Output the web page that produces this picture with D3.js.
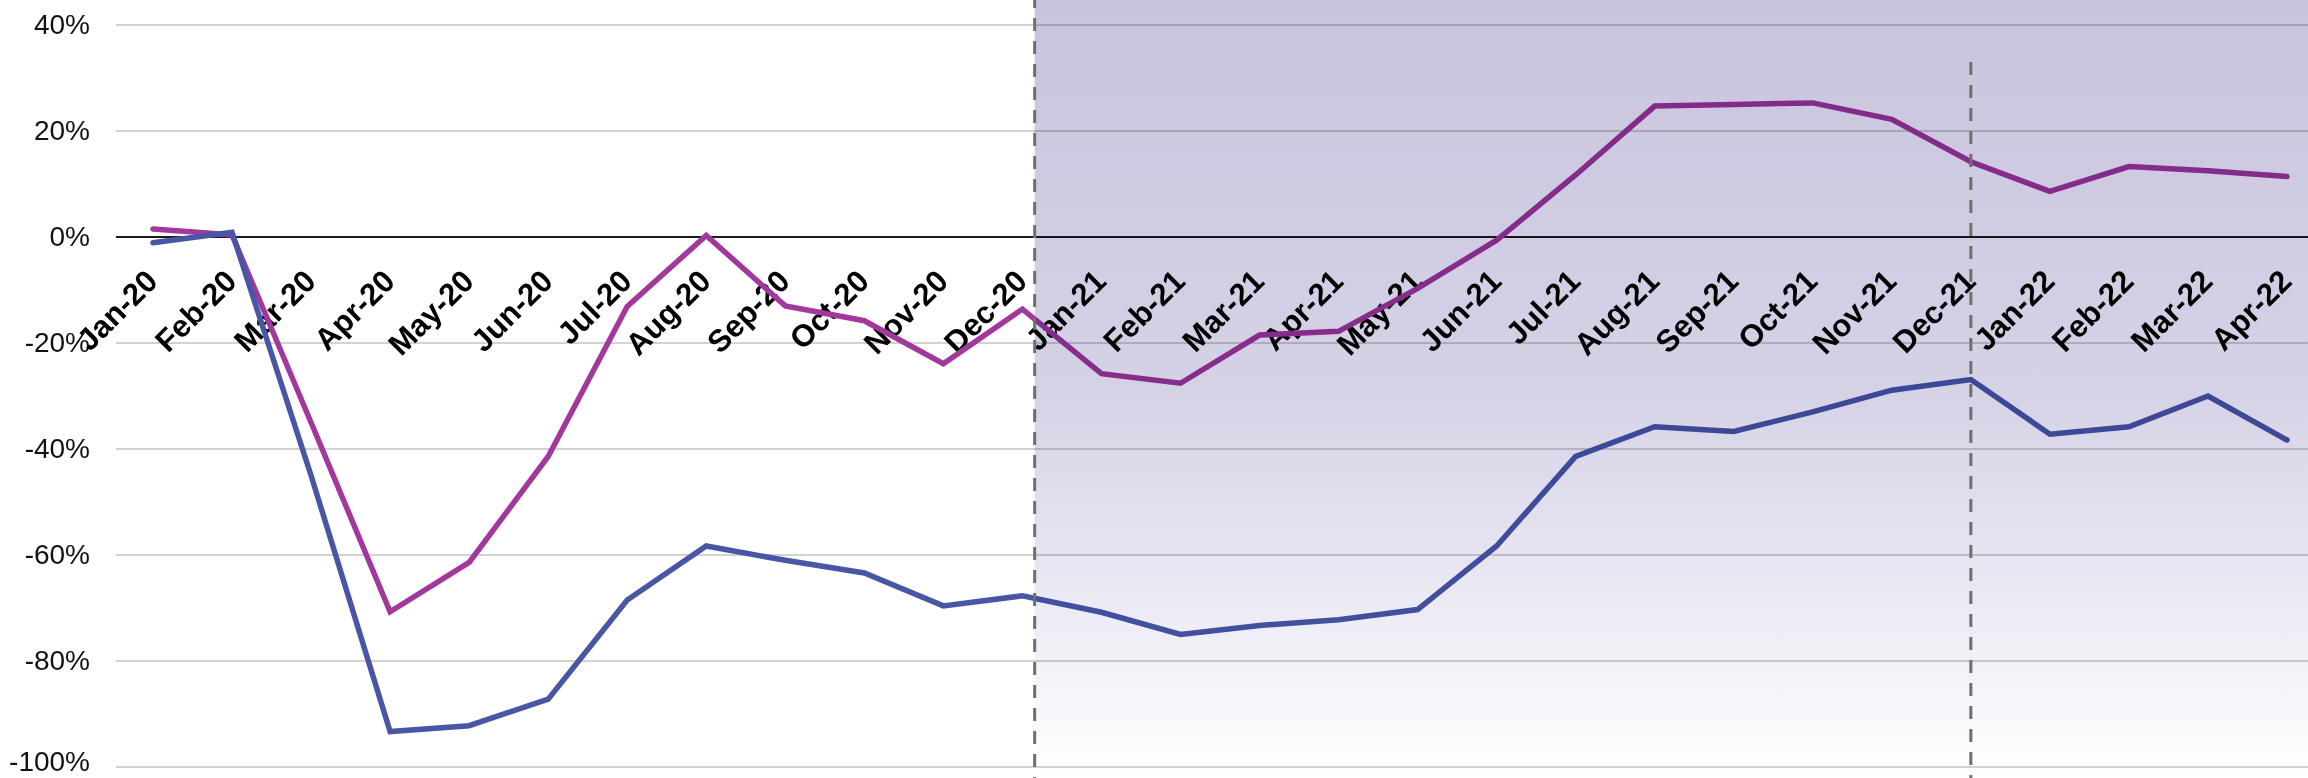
<!DOCTYPE html>
<html>
<head>
<meta charset="utf-8">
<script src="https://cdn.jsdelivr.net/npm/d3@7"></script>
<style>
  html, body { margin: 0; padding: 0; background: #fff; }
  svg { display: block; }
</style>
</head>
<body>
<script>
// months on the x axis
var months = ["Jan-20","Feb-20","Mar-20","Apr-20","May-20","Jun-20","Jul-20","Aug-20","Sep-20","Oct-20","Nov-20","Dec-20",
  "Jan-21","Feb-21","Mar-21","Apr-21","May-21","Jun-21","Jul-21","Aug-21","Sep-21","Oct-21","Nov-21","Dec-21",
  "Jan-22","Feb-22","Mar-22","Apr-22"];

// % change
var purpleSeries = [1.5, 0.4, -35, -70.7, -61.4, -41.4, -13.1, 0.3, -13, -15.8, -23.9, -13.6,
  -25.8, -27.6, -18.5, -17.8, -9.7, -0.6, 11.7, 24.7, 25, 25.3, 22.2, 14.2,
  8.6, 13.3, 12.5, 11.4];
var blueSeries = [-1.1, 0.9, -45, -93.3, -92.2, -87.2, -68.5, -58.3, -61, -63.4, -69.6, -67.7,
  -70.8, -75, -73.3, -72.2, -70.3, -58.3, -41.4, -35.8, -36.7, -33, -28.9, -26.9,
  -37.2, -35.8, -30, -38.3];

var yTicks = [40, 20, 0, -20, -40, -60, -80, -100];

var W = 2308, H = 778;

var svg = d3.select("body").append("svg")
  .attr("width", W)
  .attr("height", H)
  .style("font-family", "'Liberation Sans', Arial, Helvetica, sans-serif");

var x = d3.scalePoint().domain(months).range([153, 2287]);
var y = d3.scaleLinear().domain([-100, 40]).range([767, 25]);
var step = x.step();

//gradient for the shaded period
var defs = svg.append("defs");
var grad = defs.append("linearGradient")
  .attr("id", "shade")
  .attr("x1", 0).attr("y1", 0).attr("x2", 0).attr("y2", 1);
grad.append("stop").attr("offset", "0%").attr("stop-color", "#c9c4dd");
grad.append("stop").attr("offset", "50%").attr("stop-color", "#d5d2e6");
grad.append("stop").attr("offset", "80%").attr("stop-color", "#eeecf5");
grad.append("stop").attr("offset", "100%").attr("stop-color", "#ffffff");

// gridlines
svg.append("g")
  .selectAll("line")
  .data(yTicks.filter(function (d) { return d != 0; }))
  .enter().append("line")
  .attr("x1", 116).attr("x2", W)
  .attr("y1", function (d) { return y(d); })
  .attr("y2", function (d) { return y(d); })
  .style("stroke", "#d2d2d2")
  .style("stroke-width", 2);

// zero line
svg.append("line")
  .attr("x1", 116).attr("x2", W)
  .attr("y1", y(0)).attr("y2", y(0))
  .style("stroke", "#1a1a1a")
  .style("stroke-width", 2);

// y axis labels
var yAxis = svg.append("g")
  .attr("transform", "translate(90,0)")
  .call(d3.axisLeft(y).tickValues(yTicks).tickSize(0).tickPadding(0)
    .tickFormat(function (d) { return d + "%"; }));
yAxis.select(".domain").remove();
yAxis.selectAll("text")
  .attr("dy", function (d) { return d == -100 ? "0.12em" : "0.3em"; }) // keep bottom label inside
  .style("font-size", "28px")
  .style("fill", "#111")
  .style("font-family", "'Liberation Sans', Arial, sans-serif");

// x axis labels, rotated
var xAxis = svg.append("g")
  .attr("transform", "translate(0,283)")
  .call(d3.axisBottom(x).tickSize(0).tickPadding(0));
xAxis.select(".domain").remove();
xAxis.selectAll("text")
  .attr("x", 0).attr("y", 0).attr("dy", 0)
  .attr("text-anchor", "end")
  .attr("transform", "translate(6,0) rotate(-45)")
  .style("font-size", "31px")
  .style("font-weight", "bold")
  .style("fill", "#000")
  .style("font-family", "'Liberation Sans', Arial, sans-serif");

// lines
var line = d3.line()
  .x(function (d, i) { return x(months[i]); })
  .y(function (d) { return y(d); });

svg.append("path")
  .datum(purpleSeries)
  .attr("d", line)
  .style("fill", "none")
  .style("stroke", "#a2379c")
  .style("stroke-width", 5.5)
  .style("stroke-linecap", "round");

svg.append("path")
  .datum(blueSeries)
  .attr("d", line)
  .style("fill", "none")
  .style("stroke", "#4856a5")
  .style("stroke-width", 5.5)
  .style("stroke-linecap", "round");

// shaded period (multiplied over everything)
var shadeX = x("Dec-20") + step * 0.155;
svg.append("rect")
  .attr("x", shadeX).attr("y", 0)
  .attr("width", W - shadeX).attr("height", H)
  .style("fill", "url(#shade)")
  .style("mix-blend-mode", "multiply");

// dashed markers
svg.append("line")
  .attr("x1", shadeX).attr("x2", shadeX)
  .attr("y1", 0).attr("y2", H)
  .style("stroke", "#6f6f6f")
  .style("stroke-width", 3)
  .style("stroke-dasharray", "13,10")
  .style("stroke-dashoffset", 5);

svg.append("line")
  .attr("x1", x("Dec-21")).attr("x2", x("Dec-21"))
  .attr("y1", y(33)).attr("y2", H)
  .style("stroke", "#6f6f6f")
  .style("stroke-width", 3)
  .style("stroke-dasharray", "13,10");
</script>
</body>
</html>
